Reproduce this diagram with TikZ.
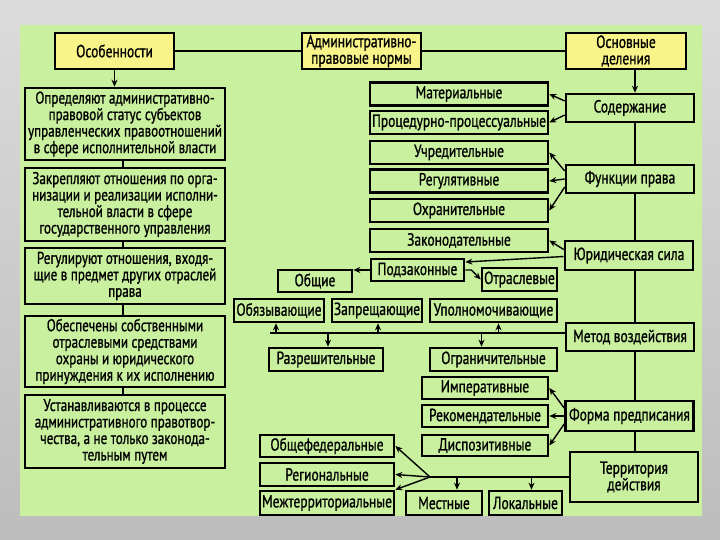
\documentclass[tikz,border=0pt]{standalone}
\usepackage{fontspec}
\setmainfont[FakeStretch=0.77, FakeBold=1]{PT Sans}
\usetikzlibrary{arrows.meta}
\definecolor{panel}{RGB}{200,240,158}
\definecolor{headyellow}{RGB}{248,244,138}

\begin{document}
\begin{tikzpicture}[x=1pt, y=-1pt, >={Stealth[length=7pt,width=6pt]},
    box/.style={draw, line width=2.6pt, fill=panel, inner sep=0.5pt, align=center,
        font=\fontsize{17.5}{16.5}\selectfont},
    head/.style={box, fill=headyellow, minimum width=119, minimum height=36},
    leftbox/.style={box, minimum width=200, font=\fontsize{17}{16.5}\selectfont},
    listbox/.style={box, minimum width=178, minimum height=23},
    sidebox/.style={box, minimum width=128, minimum height=28},
    link/.style={line width=1.4pt}]
    \useasboundingbox (0,0) rectangle (720,540);
    \shade[top color=gray!28, bottom color=gray!52] (0,0) rectangle (720,540);
    \fill[panel] (20,25) rectangle (702,516);

    % headers
    \node[head] (osob) at (114.5,51) {Особенности};
    \node[head] (adm) at (361.5,51) {Административно-\\правовые нормы};
    \node[head, minimum width=120] (osnov) at (626,51) {Основные\\деления};

    % left column
    \node[leftbox, minimum height=72] (f1) at (125,124) {Определяют административно-\\правовой статус субъектов\\управленческих правоотношений\\в сфере исполнительной власти};
    \node[leftbox, minimum height=73] (f2) at (125,204.5) {Закрепляют отношения по орга-\\низации и реализации исполни-\\тельной власти в сфере\\государственного управления};
    \node[leftbox, minimum height=56] (f3) at (125,276) {Регулируют отношения, входя-\\щие в предмет других отраслей\\права};
    \node[leftbox, minimum height=71] (f4) at (125,351.5) {Обеспечены собственными\\отраслевыми средствами\\охраны и юридического\\принуждения к их исполнению};
    \node[leftbox, minimum height=73] (f5) at (125,431.5) {Устанавливаются в процессе\\административного правотвор-\\чества, а не только законода-\\тельным путем};

    % middle list
    \node[listbox] (mat) at (459,94) {Материальные};
    \node[listbox] (proc) at (459,122.5) {Процедурно-процессуальные};
    \node[listbox] (uchr) at (459,152.5) {Учредительные};
    \node[listbox] (reg) at (459,181) {Регулятивные};
    \node[listbox] (ohr) at (459,210.5) {Охранительные};
    \node[listbox] (zak) at (459,240.5) {Законодательные};

    % right column
    \node[sidebox] (sod) at (630,108) {Содержание};
    \node[sidebox] (fun) at (630,179) {Функции права};
    \node[sidebox, minimum height=29] (yur) at (629,255.5) {Юридическая сила};
    \node[sidebox] (met) at (630,337) {Метод воздействия};
    \node[sidebox, minimum height=30] (forma) at (629.5,416) {Форма предписания};
    \node[sidebox, minimum height=50] (terr) at (634,477) {Территория\\действия};

    % middle groups
    \node[box, minimum width=93, minimum height=22] (pod) at (417.5,270) {Подзаконные};
    \node[box, minimum width=75, minimum height=23] (otr) at (519.5,279.5) {Отраслевые};
    \node[box, minimum width=74, minimum height=22] (obsh) at (315,281) {Общие};
    \node[box, minimum width=90, minimum height=23] (obyaz) at (279,310.5) {Обязывающие};
    \node[box, minimum width=90, minimum height=23] (zapr) at (377,310.5) {Запрещающие};
    \node[box, minimum width=127, minimum height=23] (upoln) at (493.5,310.5) {Уполномочивающие};
    \node[box, minimum width=114, minimum height=23] (razr) at (326,359.5) {Разрешительные};
    \node[box, minimum width=127, minimum height=23] (ogr) at (493.5,359.5) {Ограничительные};
    \node[box, minimum width=126, minimum height=22] (imper) at (485,388) {Императивные};
    \node[box, minimum width=126, minimum height=22] (rekom) at (485,416) {Рекомендательные};
    \node[box, minimum width=126, minimum height=21] (disp) at (485,445.5) {Диспозитивные};
    \node[box, minimum width=134, minimum height=22] (obfed) at (327,446) {Общефедеральные};
    \node[box, minimum width=134, minimum height=23] (regn) at (327,474.5) {Региональные};
    \node[box, minimum width=134, minimum height=24] (mezh) at (327,503) {Межтерриториальные};
    \node[box, minimum width=76, minimum height=24] (mest) at (444,503) {Местные};
    \node[box, minimum width=73, minimum height=24] (lok) at (525.5,503) {Локальные};

    \coordinate (spine) at (635,0);
    \coordinate (bus) at (270,333);
    \coordinate (fork) at (430,477);

    % header links
    \draw[link] (osob.east) -- (adm.west);
    \draw[link] (adm.east) -- (osnov.west);
    \draw[link,->] (osob.south) -- (osob.south |- f1.north);
    \foreach \a/\b in {f1/f2, f2/f3, f3/f4, f4/f5}
        \draw[link] ([xshift=-2pt]\a.south) -- ([xshift=-2pt]\b.north);

    % right spine
    \draw[link,->] (osnov.south -| spine) -- (sod.north -| spine);
    \foreach \a/\b in {sod/fun, fun/yur, yur/met, met/forma, forma/terr}
        \draw[link] (\a.south -| spine) -- (\b.north -| spine);

    % fans to the list
    \draw[link,->] ([yshift=7pt]sod.west) -- (mat.east);
    \draw[link,->] ([yshift=-7pt]sod.west) -- (proc.east);
    \draw[link,->] ([yshift=8pt]fun.west) -- (uchr.east);
    \draw[link,->] (fun.west) -- (reg.east);
    \draw[link,->] ([yshift=-8pt]fun.west) -- (ohr.east);
    \draw[link,->] ([yshift=6pt]yur.west) -- (zak.east);
    \draw[link,->] ([yshift=-1pt]yur.west) -- ([yshift=8pt]pod.east);
    \draw[link,->] (pod.west) -- (pod.west -| obsh.east);
    \draw[link,->] (pod.east) -- ++(6,0) -- (otr.west);

    % method bus
    \draw[link] (met.west |- bus) -- (bus);
    \foreach \n/\s in {obyaz/-3, zapr/1, upoln/5}
        \draw[link,->] ([xshift=\s pt]\n.south |- bus) -- ([xshift=\s pt]\n.south);
    \foreach \n/\s in {razr/2, ogr/-12}
        \draw[link,->] ([xshift=\s pt]\n.north |- bus) -- ([xshift=\s pt]\n.north);

    % form of prescription
    \draw[link,->] ([yshift=8pt]forma.west) -- (imper.east);
    \draw[link,->] (forma.west) -- (rekom.east);
    \draw[link,->] ([yshift=-8pt]forma.west) -- (disp.east);

    % territory
    \draw[link] (terr.west) -- (fork);
    \draw[link,->] (fork) -- (obfed.east);
    \draw[link,->] (fork) -- (regn.east);
    \draw[link,->] (fork) -- (mezh.north east);
    \foreach \n/\s in {mest/13, lok/6}
        \draw[link,->] ([xshift=\s pt]\n.north |- fork) -- ([xshift=\s pt]\n.north);
\end{tikzpicture}
\end{document}
